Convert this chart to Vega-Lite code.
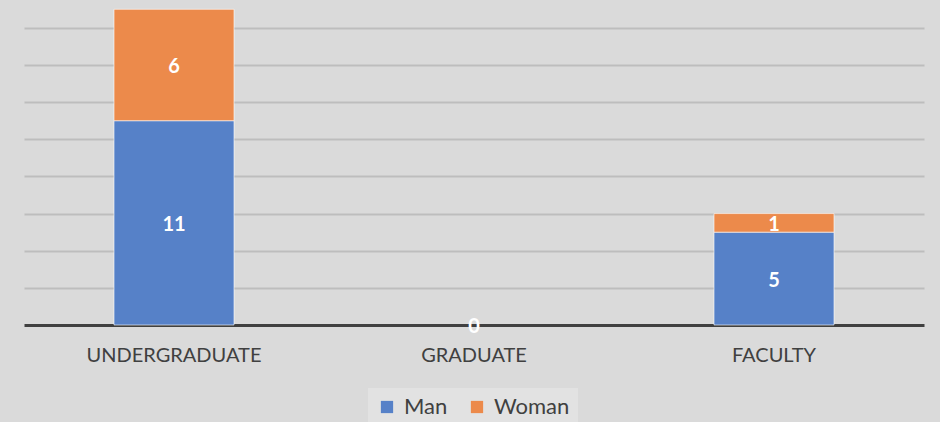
{
  "$schema": "https://vega.github.io/schema/vega-lite/v6.json",
  "autosize": {"type": "none"},
  "width": 900,
  "height": 325,
  "padding": {"left": 24, "top": 0, "right": 16, "bottom": 97},
  "background": "#dadada",
  "config": {
    "view": {"stroke": null},
    "font": "Lato"
  },
  "data": {
    "values": [
      {"group": "UNDERGRADUATE", "gender": "Man", "count": 11},
      {"group": "UNDERGRADUATE", "gender": "Woman", "count": 6},
      {"group": "GRADUATE", "gender": "Man", "count": 0},
      {"group": "FACULTY", "gender": "Man", "count": 5},
      {"group": "FACULTY", "gender": "Woman", "count": 1}
    ]
  },
  "encoding": {
    "x": {
      "field": "group", "type": "nominal", "sort": ["UNDERGRADUATE", "GRADUATE", "FACULTY"],
      "scale": {"domain": ["UNDERGRADUATE", "GRADUATE", "FACULTY"], "paddingInner": 0.6, "paddingOuter": 0.3},
      "axis": {"title": null, "labelAngle": 0, "ticks": false, "domainColor": "#404040", "domainWidth": 3,
               "labelColor": "#404040", "labelFontSize": 20, "labelPadding": 20, "labelFont": "Lato"}
    },
    "y": {
      "field": "count", "type": "quantitative", "stack": "zero",
      "scale": {"domain": [0, 17.5], "nice": false},
      "axis": {"title": null, "labels": false, "ticks": false, "domain": false,
               "values": [2, 4, 6, 8, 10, 12, 14, 16], "gridColor": "#bdbdbd", "gridWidth": 2}
    },
    "order": {"field": "gender", "sort": "ascending"}
  },
  "layer": [
    {
      "transform": [{"filter": "datum.count > 0"}],
      "mark": {"type": "bar", "stroke": "#ffffff", "strokeWidth": 1, "strokeOpacity": 0.6},
      "encoding": {
        "color": {
          "field": "gender", "type": "nominal",
          "scale": {"domain": ["Man", "Woman"], "range": ["#5681c8", "#ec8a4b"]},
          "legend": {
            "title": null, "orient": "none", "legendX": 344, "legendY": 388, "direction": "horizontal",
            "symbolType": "square", "symbolSize": 150, "symbolStrokeWidth": 0,
            "labelFontSize": 22, "labelColor": "#404040", "labelFont": "Lato",
            "fillColor": "#e2e2e2", "padding": 8, "columnPadding": 18, "labelOffset": 6
          }
        }
      }
    },
    {
      "mark": {"type": "text", "color": "#ffffff", "fontSize": 20, "fontWeight": "bold", "baseline": "middle", "dy": 2},
      "encoding": {
        "y": {"field": "count", "type": "quantitative", "stack": "zero", "bandPosition": 0.5},
        "text": {"field": "count", "type": "quantitative"}
      }
    }
  ]
}
